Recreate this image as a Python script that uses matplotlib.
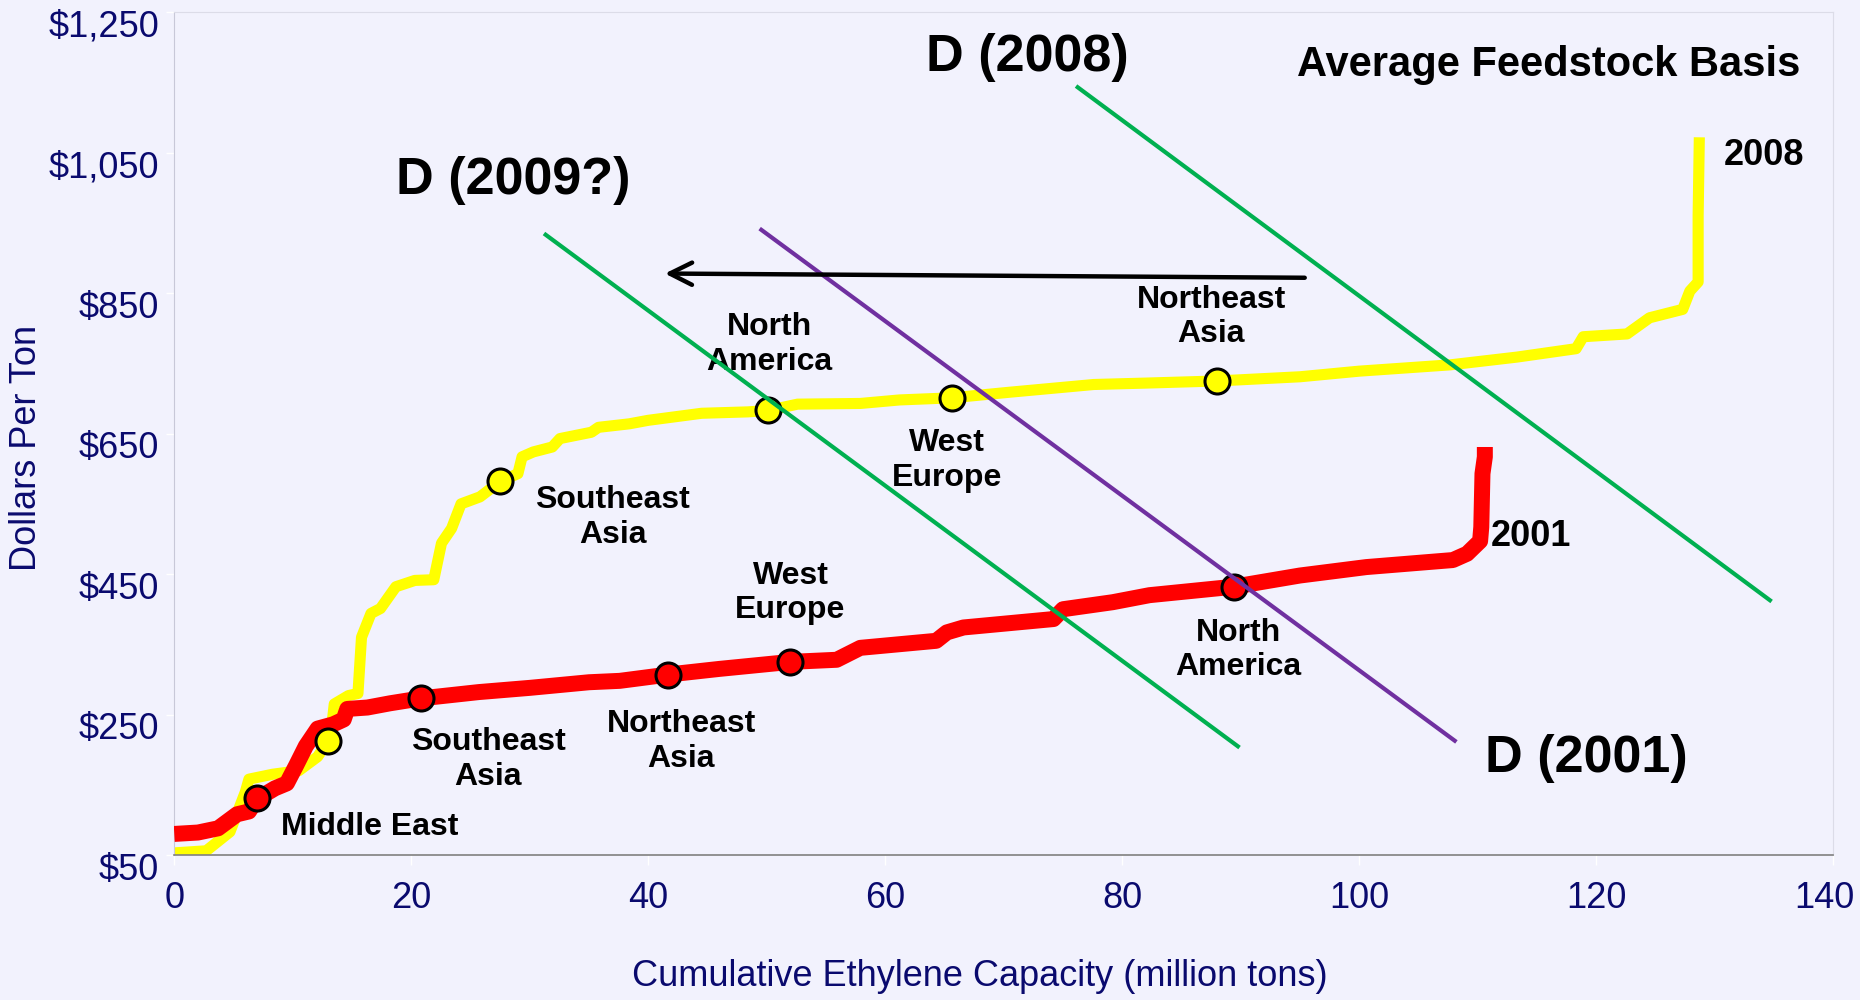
import matplotlib
matplotlib.use("Agg")
import matplotlib.pyplot as plt
from matplotlib.transforms import ScaledTranslation

plt.rcParams['font.family'] = ['Liberation Sans', 'DejaVu Sans']

# cost curve 2001 (cumulative capacity, $/ton)
cap_2001 = [0, 2, 3.7, 5.3, 6.3, 7.0, 8.5, 9.5, 10.3, 11.1, 12.1, 13.4, 14.3, 14.6,
            16.3, 18.2, 20.8, 25.7, 30, 35, 37.6, 41.7, 46, 52, 55.9, 57.9, 64.3,
            65.2, 66.6, 74.2, 75.0, 79.2, 82.3, 89.4, 95.0, 100.6, 107.9, 109.1,
            110.2, 110.3, 110.4, 110.6, 110.6]
cost_2001 = [80, 82, 88, 108, 112, 130, 145, 152, 178, 205, 230, 236, 243, 258,
             260, 266, 273, 282, 288, 296, 298, 307, 315, 325, 328, 345, 355,
             367, 374, 386, 400, 410, 420, 432, 448, 460, 470, 479,
             497, 517, 593, 617, 631]

# cost curve 2008
cap_2008 = [0, 2.7, 4.7, 6.0, 6.3, 8.3, 10.5, 12.1, 13.0, 13.3, 13.5, 14.7, 15.5,
            15.8, 16.6, 17.4, 18.7, 20.3, 21.9, 22.55, 23.4, 24.2, 25.8, 27.5,
            29.0, 29.35, 30.3, 31.9, 32.55, 35.2, 35.8, 38.4, 40.0, 44.5, 48.4,
            50.1, 52.6, 57.9, 61.2, 65.6, 70.5, 77.6, 82, 88.0, 95, 100, 107.7,
            113.3, 118.3, 118.9, 122.6, 124.5, 127.3, 127.9, 128.6, 128.6, 128.7]
cost_2008 = [53, 56, 83, 140, 158, 165, 170, 190, 213, 235, 265, 277, 280,
             360, 394, 401, 432, 441, 442, 494, 515, 550, 560, 582,
             593, 617, 624, 631, 643, 652, 659, 664, 669, 679, 681,
             683, 692, 693, 698, 701, 709, 720, 722, 725, 731, 739, 748,
             759, 771, 788, 792, 815, 827, 853, 866, 960, 1072]

# regional points on each curve
regions_2001 = ["Middle East", "Southeast\nAsia", "Northeast\nAsia", "West\nEurope", "North\nAmerica"]
pts_2001_x = [6.95, 20.8, 41.7, 52.0, 89.4]
pts_2001_y = [131, 273, 307, 325, 432]
regions_2008 = ["Southeast\nAsia", "North\nAmerica", "West\nEurope", "Northeast\nAsia"]
pts_2008_x = [13.0, 27.5, 50.1, 65.6, 88.0]
pts_2008_y = [213, 582, 683, 701, 725]

# demand lines
d2008_x, d2008_y = [76.1, 134.8], [1145, 411]
d2009_x, d2009_y = [31.2, 89.9], [935, 203]
d2001_x, d2001_y = [49.4, 108.2], [942, 211]

yticks = [50, 250, 450, 650, 850, 1050, 1250]
ytick_labels = ["$50", "$250", "$450", "$650", "$850", "$1,050", "$1,250"]
xticks = [0, 20, 40, 60, 80, 100, 120, 140]

bg = "#F2F2FD"
navy = "#0A0A6E"

fig = plt.figure(figsize=(18.6, 10), dpi=100, facecolor=bg)
ax = fig.add_axes([0.0937, 0.145, 0.8919, 0.8427], facecolor=bg)

ax.plot(cap_2008, cost_2008, color="#FFFF00", lw=8, solid_capstyle="butt",
        solid_joinstyle="round", zorder=2)
ax.plot(cap_2001, cost_2001, color="#FF0000", lw=11.5, solid_capstyle="butt",
        solid_joinstyle="round", zorder=3)
ax.plot(pts_2008_x, pts_2008_y, "o", ms=18, mfc="#FFFF00", mec="black", mew=2.2, zorder=4)
ax.plot(pts_2001_x, pts_2001_y, "o", ms=18, mfc="#FF0000", mec="black", mew=2.2, zorder=4)

green = "#00B050"
ax.plot(d2008_x, d2008_y, color=green, lw=3, solid_capstyle="butt", zorder=6)
ax.plot(d2009_x, d2009_y, color=green, lw=3, solid_capstyle="butt", zorder=6)
ax.plot(d2001_x, d2001_y, color="#7030A0", lw=3, solid_capstyle="butt", zorder=6)

ax.annotate("", xy=(41.4, 878), xytext=(95.4, 872),
            arrowprops=dict(arrowstyle="->,head_length=0.8,head_width=0.4",
                            lw=3.2, color="black", shrinkA=0, shrinkB=0,
                            mutation_scale=20), zorder=7)

lab = dict(fontsize=23, fontweight="bold", ha="center", va="center", zorder=5)
ax.text(16.5, 90, "Middle East", **lab)
ax.text(26.5, 186, "Southeast\nAsia", **lab)
ax.text(42.8, 212, "Northeast\nAsia", **lab)
ax.text(52.0, 423, "West\nEurope", **lab)
ax.text(89.8, 342, "North\nAmerica", **lab)
ax.text(37.0, 531, "Southeast\nAsia", **lab)
ax.text(50.2, 777, "North\nAmerica", **lab)
ax.text(65.2, 612, "West\nEurope", **lab)
ax.text(87.5, 816, "Northeast\nAsia", **lab)

ax.text(134.2, 1046, "2008", fontsize=26, fontweight="bold", ha="center", va="center")
ax.text(114.5, 503, "2001", fontsize=26, fontweight="bold", ha="center", va="center")
ax.text(72.0, 1186, "D (2008)", fontsize=37.5, fontweight="bold", ha="center", va="center")
ax.text(28.6, 1011, "D (2009?)", fontsize=37.5, fontweight="bold", ha="center", va="center")
ax.text(119.2, 187, "D (2001)", fontsize=37.5, fontweight="bold", ha="center", va="center")
ax.text(116.0, 1175, "Average Feedstock Basis", fontsize=30, fontweight="bold",
        ha="center", va="center")

ax.set_xlim(0, 140)
ax.set_ylim(50, 1250)
ax.set_xticks(xticks)
ax.set_xticklabels([str(t) for t in xticks])
ax.set_yticks(yticks)
ax.set_yticklabels(ytick_labels)
ax.tick_params(axis="x", direction="out", length=7, width=1, color="white",
               labelsize=26, labelcolor=navy, pad=12)
ax.tick_params(axis="y", direction="out", length=6, width=1, color="white",
               labelsize=26, labelcolor=navy, pad=5)
for t in ax.get_yticklabels():
    t.set_transform(t.get_transform() + ScaledTranslation(0, -0.11, fig.dpi_scale_trans))
last = ax.get_xticklabels()[-1]
last.set_transform(last.get_transform() + ScaledTranslation(-0.09, 0, fig.dpi_scale_trans))

ax.spines["bottom"].set_color("#808080")
ax.spines["bottom"].set_linewidth(1.2)
ax.spines["left"].set_color("#C8C8D8")
for s in ["top", "right"]:
    ax.spines[s].set_color("#DCDCE8")

fig.text(26 / 1860, 1 - 448 / 1000, "Dollars Per Ton", rotation=90, fontsize=26,
         color=navy, ha="center", va="center")
fig.text(980 / 1860, 1 - 977 / 1000, "Cumulative Ethylene Capacity (million tons)",
         fontsize=26, color=navy, ha="center", va="center")

fig.savefig("out.png", dpi=100, facecolor=bg)
